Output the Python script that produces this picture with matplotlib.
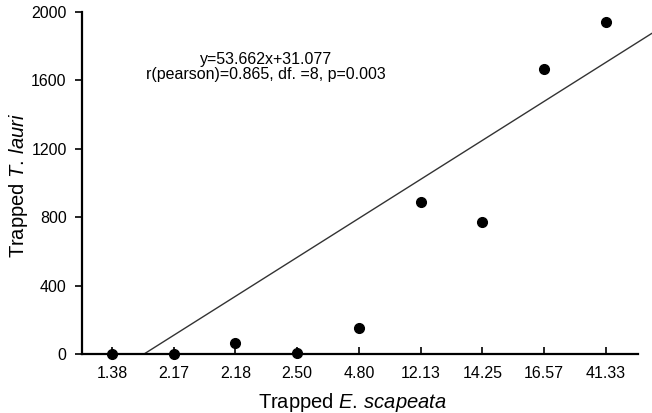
import matplotlib
matplotlib.use("Agg")
import matplotlib.pyplot as plt
import numpy as np

plt.rcParams['font.family'] = ['Liberation Sans', 'DejaVu Sans']
plt.rcParams['mathtext.fontset'] = 'custom'
plt.rcParams['mathtext.rm'] = 'Liberation Sans'
plt.rcParams['mathtext.it'] = 'Liberation Sans:italic'

categories = ["1.38", "2.17", "2.18", "2.50", "4.80", "12.13", "14.25", "16.57", "41.33"]
trapped_lauri = [0, 0, 66, 5, 150, 888, 771, 1664, 1939]
yticks = [0, 400, 800, 1200, 1600, 2000]

# fitted line as drawn on the category axis
line_slope = 228.0
line_x_start = 1.52
line_x_end = 9.74

fig = plt.figure(figsize=(6.52, 4.13), dpi=100)
ax = fig.add_axes([82/652, 1-354/413, (638-82)/652, (354-12)/413])

pos = np.arange(1, len(categories) + 1)
ax.plot(pos, trapped_lauri, 'o', color='black', markersize=7, zorder=3, clip_on=False)

lx = np.array([line_x_start, line_x_end])
ax.plot(lx, line_slope * (lx - line_x_start), color='#333333', linewidth=1.0, clip_on=False)

ax.set_xlim(0.515, 9.52)
ax.set_ylim(0, 2000)
ax.set_xticks(pos)
ax.set_xticklabels(categories, fontsize=11.5)
ax.set_yticks(yticks)
ax.set_yticklabels([str(v) for v in yticks], fontsize=11.5)

for s in ['top', 'right']:
    ax.spines[s].set_visible(False)
for s in ['left', 'bottom']:
    ax.spines[s].set_linewidth(1.6)

ax.tick_params(axis='x', direction='in', length=5, width=1.2, pad=9)
ax.tick_params(axis='y', direction='out', length=5, width=1.2, pad=6)

ax.set_xlabel(r'Trapped $\mathit{E.\,scapeata}$', fontsize=14.5)
ax.set_ylabel(r'Trapped $\mathit{T.\,lauri}$', fontsize=14.5)
ax.xaxis.set_label_coords((352 - 82) / 556, -(402 - 354) / 342)
ax.yaxis.set_label_coords((18 - 82) / 556, (354 - 185) / 342)
ax.xaxis.label.set_va('center')
ax.yaxis.label.set_va('center')

ax.text((266 - 82) / 556, (354 - 67) / 342, "y=53.662x+31.077\nr(pearson)=0.865, df. =8, p=0.003",
        transform=ax.transAxes, ha='center', va='center', fontsize=11.5,
        linespacing=1.05)

fig.savefig("out.png", dpi=100)
